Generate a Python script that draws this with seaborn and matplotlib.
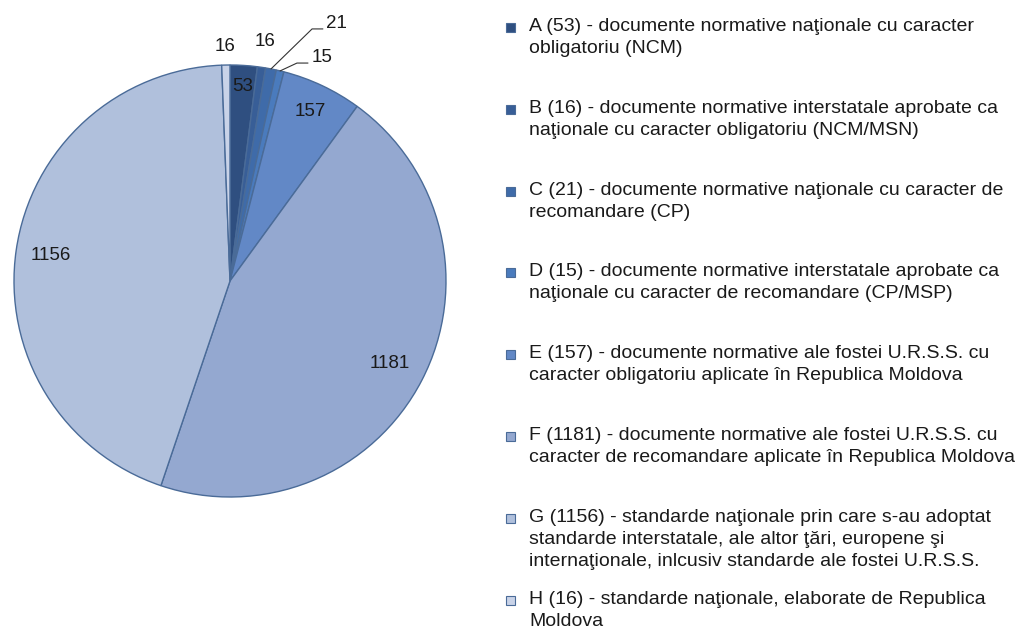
import numpy as np
import matplotlib
matplotlib.use('Agg')
import matplotlib.pyplot as plt
import seaborn as sns
from matplotlib.patches import Rectangle

sns.set_theme(style='white')
plt.rcParams['font.family'] = ['Liberation Sans', 'DejaVu Sans']

# data
codes = ['A', 'B', 'C', 'D', 'E', 'F', 'G', 'H']
values = [53, 16, 21, 15, 157, 1181, 1156, 16]
descriptions = [
    'documente normative naţionale cu caracter\nobligatoriu (NCM)',
    'documente normative interstatale aprobate ca\nnaţionale cu caracter obligatoriu (NCM/MSN)',
    'documente normative naţionale cu caracter de\nrecomandare (CP)',
    'documente normative interstatale aprobate ca\nnaţionale cu caracter de recomandare (CP/MSP)',
    'documente normative ale fostei U.R.S.S. cu\ncaracter obligatoriu aplicate în Republica Moldova',
    'documente normative ale fostei U.R.S.S. cu\ncaracter de recomandare aplicate în Republica Moldova',
    'standarde naţionale prin care s-au adoptat\nstandarde interstatale, ale altor ţări, europene şi\ninternaţionale, inlcusiv standarde ale fostei U.R.S.S.',
    'standarde naţionale, elaborate de Republica\nMoldova',
]
colors = sns.color_palette(['#2f4f80', '#385e97', '#3f6ba9', '#4a7bbd',
                            '#6288c6', '#94a8d0', '#b0c0dc', '#c9d3e8'])
edge = '#4a6b98'

fig = plt.figure(figsize=(10.33, 6.33), dpi=100)
ax = fig.add_axes([14 / 1033, 1 - 497 / 633, 432 / 1033, 432 / 633])

wedges, _ = ax.pie(values, colors=colors, startangle=90, counterclock=False,
                   radius=1, wedgeprops=dict(edgecolor=edge, linewidth=1))
ax.set_xlim(-1, 1)
ax.set_ylim(-1, 1)
ax.set_aspect('auto')
ax.axis('off')

# label radius for each slice (inside or outside)
label_r = [0.9, 1.12, None, None, 0.87, 0.835, 0.84, 1.085]
for w, v, r in zip(wedges, values, label_r):
    if r is None:
        continue
    mid = np.deg2rad((w.theta1 + w.theta2) / 2)
    ax.text(r * np.cos(mid), r * np.sin(mid), str(v), ha='center', va='center',
            fontsize=13.5, color='#1a1a1a', clip_on=False)

# leader lines for the two thin slices
leaders = {2: ((0.380, 1.167), (0.43, 1.167)), 3: ((0.31, 1.009), (0.361, 1.009))}
for i, (elbow, end) in leaders.items():
    w = wedges[i]
    mid = np.deg2rad((w.theta1 + w.theta2) / 2)
    x0, y0 = np.cos(mid), np.sin(mid)
    ax.plot([x0, elbow[0], end[0]], [y0, elbow[1], end[1]], color='#333333',
            lw=0.8, clip_on=False)
    ax.text(end[0] + 0.015, end[1] + 0.025, str(values[i]), ha='left', va='center',
            fontsize=13.5, color='#1a1a1a', clip_on=False)

# legend on the right
W, H = 1033, 633
for i, (c, v, d) in enumerate(zip(codes, values, descriptions)):
    ytop = 18 + i * 81.8
    fig.patches.append(Rectangle((506 / W, 1 - (ytop + 14) / H), 9 / W, 9 / H,
                                 transform=fig.transFigure, facecolor=colors[i],
                                 edgecolor=edge, linewidth=0.8))
    fig.text(529 / W, 1 - ytop / H, f'{c} ({v}) - {d}', ha='left', va='top',
             fontsize=14, color='#1a1a1a', linespacing=1.38)

fig.savefig('out.png', dpi=100)
